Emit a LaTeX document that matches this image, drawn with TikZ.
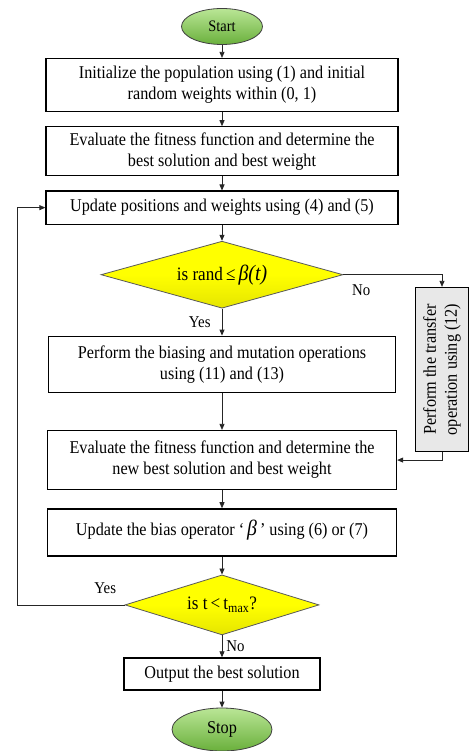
\documentclass[tikz,border=0pt]{standalone}
\usepackage{fontspec}
\setmainfont{Liberation Serif}[FakeStretch=0.9]
\usepackage{xcolor}
\usetikzlibrary{shapes.geometric, arrows.meta, positioning, calc}
\definecolor{termgreen}{RGB}{106,176,60}
\definecolor{termlight}{RGB}{186,230,150}
\definecolor{decyellow}{RGB}{255,255,0}
\tikzset{
  process/.style={rectangle, draw=black, line width=1.3pt, fill=white,
                  align=center, minimum width=352pt, inner sep=2pt,
                  font=\fontsize{18}{21}\selectfont},
  sidebox/.style={process, fill=gray!18, minimum width=164pt,
                  minimum height=53pt, rotate=90},
  terminal/.style={ellipse, draw=black!75, line width=0.8pt, inner sep=0pt,
                   top color=termlight, bottom color=termgreen,
                   font=\fontsize{16}{18}\selectfont},
  decision/.style={diamond, draw=black!65, line width=0.8pt, inner sep=0pt,
                   top color=decyellow, bottom color=decyellow!90!black,
                   middle color=decyellow,
                   align=center, font=\fontsize{19}{22}\selectfont},
  arrow/.style={-{Triangle[length=6pt, width=5pt]}, draw=black!85, line width=0.8pt},
  answer/.style={font=\fontsize{16.5}{18}\selectfont, inner sep=1pt},
}
\begin{document}
\begin{tikzpicture}[x=1pt, y=-1pt, node distance=13pt]
  \useasboundingbox (0,0) rectangle (470,751);

  \node[terminal, minimum width=81pt, minimum height=36pt] (start) at (222,26.5) {Start};
  \node[process, below=13pt of start, minimum height=53pt] (init)
    {Initialize the population using (1) and initial\\random weights within (0, 1)};
  \node[process, below=14pt of init, minimum height=49pt] (evalA)
    {Evaluate the fitness function and determine the\\best solution and best weight};
  \node[process, below=14pt of evalA, minimum height=33pt] (update)
    {Update positions and weights using (4) and (5)};
  \node[decision, below=16pt of update, minimum width=242pt, minimum height=67pt,
        aspect=3.6] (dec1)
    {is rand\,≤\,{\fontsize{22}{22}\selectfont\itshape β(t)}};
  \node[process, below=27pt of dec1, minimum height=56pt, minimum width=347pt] (bias)
    {Perform the biasing and mutation operations\\using (11) and (13)};
  \node[process, below=37pt of bias, minimum height=59pt, minimum width=349pt] (evalB)
    {Evaluate the fitness function and determine the\\new best solution and best weight};
  \node[process, below=18pt of evalB, minimum height=47pt, minimum width=349pt] (upbeta)
    {\raisebox{10pt}{Update the bias operator `\,{\fontsize{22}{22}\selectfont\itshape β}\,' using (6) or (7)}};
  \node[decision, below=18pt of upbeta, minimum width=194pt, minimum height=60pt,
        aspect=3.2] (dec2)
    {is t\,<\,t\textsubscript{max}?};
  \node[process, below=22pt of dec2, minimum height=32pt, minimum width=196pt] (output)
    {Output the best solution};
  \node[terminal, below=17pt of output, minimum width=100pt, minimum height=43pt] (stop)
    {\fontsize{18}{18}\selectfont Stop};

  \node[sidebox] (transfer) at (442,369.5)
    {Perform the transfer\\operation using (12)};
  \coordinate (loop) at (17,0);

  \draw[arrow] (start) -- (init);
  \draw[arrow] (init) -- (evalA);
  \draw[arrow] (evalA) -- (update);
  \draw[arrow] (update) -- (dec1);
  \draw[arrow] (dec1) -- node[answer, left=10pt]{Yes} (bias);
  \draw[arrow] (dec1.east) -| node[answer, pos=0.09, below=9pt]{No} (transfer);
  \draw[arrow] (transfer) |- (evalB);
  \draw[arrow] (bias) -- (evalB);
  \draw[arrow] (evalB) -- (upbeta);
  \draw[arrow] (upbeta) -- (dec2);
  \draw[arrow] (dec2) -- node[answer, right=3pt]{No} (output);
  \draw[arrow] (output) -- (stop);
  \draw[arrow] (dec2.west) -- node[answer, pos=0.18, above=10pt]{Yes}
    (dec2.west -| loop) |- (update.west);
\end{tikzpicture}
\end{document}
